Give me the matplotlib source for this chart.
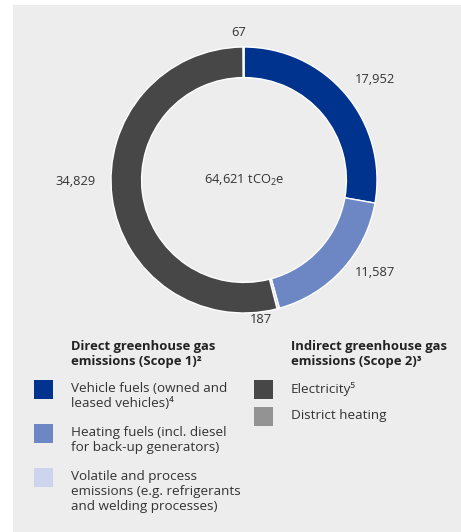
import numpy as np
import matplotlib.pyplot as plt
from matplotlib.patches import Rectangle

# data
categories = ['Vehicle fuels', 'Heating fuels', 'Volatile and process emissions',
              'Electricity', 'District heating']
values = [17952, 11587, 187, 34829, 67]
value_labels = ['17,952', '11,587', '187', '34,829', '67']
colors = ['#00338d', '#6d87c4', '#cdd5ee', '#474747', '#939393']
total_label = '64,621 tCO$_2$e'

scope1_title = 'Direct greenhouse gas\nemissions (Scope 1)²'
scope2_title = 'Indirect greenhouse gas\nemissions (Scope 2)³'
scope1_items = ['Vehicle fuels (owned and\nleased vehicles)⁴',
                'Heating fuels (incl. diesel\nfor back-up generators)',
                'Volatile and process\nemissions (e.g. refrigerants\nand welding processes)']
scope2_items = ['Electricity⁵', 'District heating']

plt.rcParams['font.family'] = ['Open Sans', 'DejaVu Sans']
plt.rcParams['mathtext.fontset'] = 'custom'
plt.rcParams['mathtext.rm'] = 'Open Sans'
plt.rcParams['mathtext.it'] = 'Open Sans'

W, H = 461, 532
fig = plt.figure(figsize=(W / 100, H / 100), dpi=100)
fig.patch.set_facecolor('white')

# background panel / overlay axes in pixel coords
bg = fig.add_axes([0, 0, 1, 1])
bg.set_xlim(0, W)
bg.set_ylim(H, 0)
bg.axis('off')
bg.add_patch(Rectangle((13, 5), W - 13, H - 5, facecolor='#ededed', edgecolor='none'))

# donut
cx, cy, r = 244, 180, 133
ax = fig.add_axes([(cx - r) / W, (H - cy - r) / H, 2 * r / W, 2 * r / H])
wedges, _ = ax.pie(values, colors=colors, startangle=90, counterclock=False,
                   radius=1, wedgeprops=dict(width=0.23, edgecolor='white', linewidth=1.0))
ax.set_xlim(-1, 1)
ax.set_ylim(-1, 1)
ax.axis('off')

# value labels around the ring
label_r = [1.24, 1.21, 1.06, 1.27, 1.11]
label_shift = [2.5, -7, 8, 7, -2]  # degrees
for w, lab, lr, sh in zip(wedges, value_labels, label_r, label_shift):
    ang = np.deg2rad((w.theta1 + w.theta2) / 2 - sh)
    ax.text(lr * np.cos(ang), lr * np.sin(ang), lab, ha='center', va='center',
            fontsize=9.3, color='#333333')

ax.text(0, 0, total_label, ha='center', va='center', fontsize=9.3, color='#333333')

# legend
txt_kw = dict(fontsize=9.7, color='#333333', va='top', linespacing=1.18)
bg.text(71, 340, scope1_title, fontweight='bold', **{**txt_kw, 'color': '#222222', 'fontsize': 9.4})
bg.text(291, 340, scope2_title, fontweight='bold', **{**txt_kw, 'color': '#222222', 'fontsize': 9.4})

s1_y = [380, 424, 468]
for y, lab, c in zip(s1_y, scope1_items, colors[:3]):
    bg.add_patch(Rectangle((34, y), 19, 19, facecolor=c, edgecolor='none'))
    bg.text(71, y + 2, lab, **txt_kw)

s2_y = [380, 407]
for y, lab, c in zip(s2_y, scope2_items, colors[3:]):
    bg.add_patch(Rectangle((254, y), 19, 19, facecolor=c, edgecolor='none'))
    bg.text(291, y + 2, lab, **txt_kw)

fig.savefig('out.png', dpi=100)
